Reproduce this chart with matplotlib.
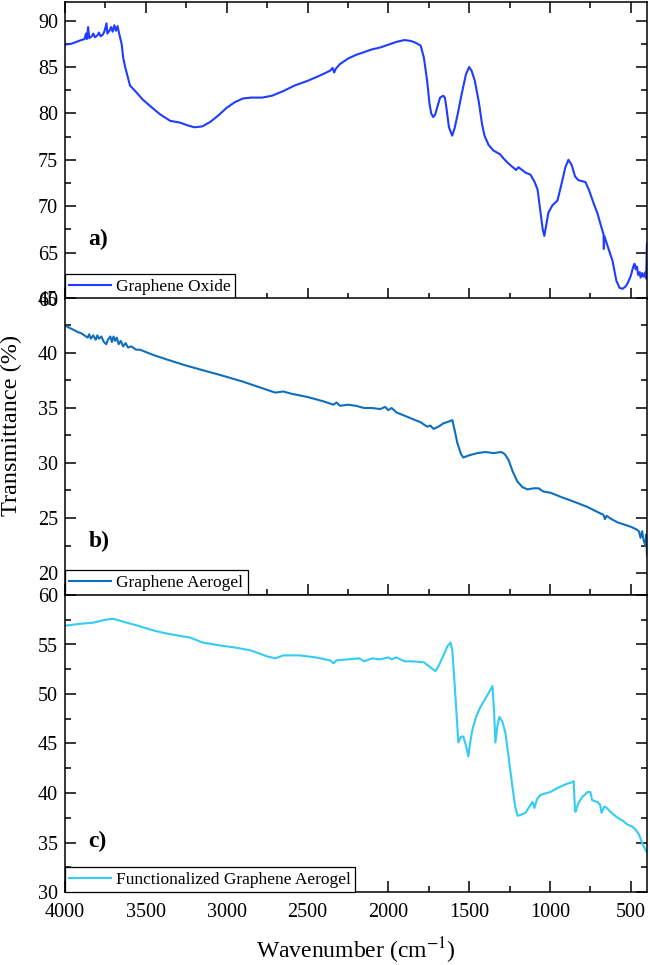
import matplotlib
matplotlib.use("Agg")
import matplotlib.pyplot as plt
from matplotlib.ticker import MultipleLocator

plt.rcParams['font.family'] = ['Liberation Serif', 'DejaVu Serif']
plt.rcParams['mathtext.fontset'] = 'stix'

# Graphene Oxide
wn_go = [4000, 3960, 3930, 3900, 3880, 3870, 3865, 3857, 3850, 3835, 3825, 3815, 3800, 3790,
         3780, 3765, 3755, 3743, 3738, 3725, 3715, 3705, 3695, 3685, 3675, 3665, 3650, 3640,
         3628, 3610, 3598, 3560, 3520, 3474, 3412, 3350, 3288, 3240, 3200, 3150, 3100, 3050,
         3000, 2950, 2900, 2850, 2780, 2720, 2650, 2580, 2500, 2420, 2360, 2345, 2335, 2325,
         2300, 2250, 2200, 2150, 2100, 2050, 2000, 1950, 1900, 1860, 1830, 1800, 1780, 1760,
         1745, 1735, 1722, 1710, 1695, 1680, 1660, 1650, 1640, 1625, 1605, 1590, 1570, 1545,
         1520, 1500, 1485, 1465, 1440, 1420, 1405, 1380, 1350, 1310, 1280, 1257, 1230, 1210,
         1195, 1180, 1150, 1121, 1095, 1077, 1060, 1045, 1035, 1025, 1010, 985, 954, 930, 905,
         886, 865, 845, 824, 781, 760, 730, 706, 680, 669, 667, 664, 640, 613, 590, 570, 550,
         530, 520, 500, 485, 477, 470, 462, 455, 445, 440, 430, 420, 410, 405, 401, 400]
t_go = [87.4, 87.5, 87.7, 87.9, 88.0, 88.6, 88.0, 89.3, 88.1, 88.3, 88.6, 88.2, 88.4, 88.7,
        88.3, 88.5, 88.9, 89.7, 88.6, 88.9, 89.3, 88.8, 89.5, 88.9, 89.4, 88.6, 87.5, 86.0,
        85.0, 83.8, 83.0, 82.3, 81.5, 80.8, 79.9, 79.2, 79.0, 78.7, 78.5, 78.6, 79.1, 79.8,
        80.6, 81.2, 81.6, 81.7, 81.7, 81.9, 82.4, 83.0, 83.5, 84.1, 84.6, 84.9, 84.4, 84.8,
        85.3, 85.9, 86.3, 86.6, 86.9, 87.1, 87.4, 87.7, 87.9, 87.8, 87.6, 87.3, 86.0, 83.5,
        81.0, 80.0, 79.6, 79.9, 80.8, 81.7, 81.9, 81.7, 80.5, 78.5, 77.6, 78.4, 80.0, 82.2,
        84.2, 85.0, 84.6, 83.5, 81.2, 78.8, 77.6, 76.6, 76.0, 75.6, 75.0, 74.6, 74.2, 73.9,
        74.2, 74.0, 73.6, 73.4, 72.6, 71.8, 69.5, 67.5, 66.8, 67.8, 69.3, 70.1, 70.6, 72.3, 74.2,
        75.0, 74.4, 73.2, 72.8, 72.6, 71.8, 70.3, 69.2, 67.6, 67.0, 65.4, 66.8, 65.5, 64.1, 62.0,
        61.2, 61.1, 61.4, 61.7, 62.5, 63.5, 63.8, 63.2, 63.5, 62.6, 62.9, 62.3, 62.8, 62.4, 62.9,
        62.2, 65.8, 66.0]

# Graphene Aerogel
wn_ga = [4000, 3960, 3920, 3900, 3880, 3860, 3850, 3840, 3825, 3810, 3800, 3790, 3775, 3760,
         3745, 3735, 3720, 3710, 3700, 3690, 3680, 3668, 3655, 3640, 3625, 3610, 3590, 3560,
         3536, 3450, 3368, 3260, 3164, 3040, 2900, 2800, 2700, 2650, 2600, 2500, 2400, 2340,
         2320, 2300, 2250, 2200, 2150, 2100, 2050, 2020, 2000, 1980, 1950, 1900, 1850, 1800,
         1760, 1740, 1720, 1690, 1660, 1620, 1604, 1590, 1573, 1550, 1536, 1500, 1449, 1400,
         1350, 1300, 1280, 1257, 1230, 1201, 1170, 1139, 1100, 1071, 1040, 997, 930, 873, 820,
         768, 700, 670, 660, 650, 620, 582, 540, 500, 470, 450, 440, 430, 421, 410, 405, 400]
t_ga = [42.5, 42.2, 41.9, 41.8, 41.6, 41.4, 41.7, 41.3, 41.6, 41.2, 41.6, 41.3, 41.5, 41.0,
        40.8, 41.2, 41.5, 41.0, 41.5, 41.1, 41.4, 40.8, 41.1, 40.6, 40.9, 40.5, 40.6, 40.3,
        40.3, 39.8, 39.4, 38.9, 38.5, 38.0, 37.4, 36.9, 36.4, 36.5, 36.3, 36.0, 35.6, 35.3,
        35.5, 35.2, 35.3, 35.2, 35.0, 35.0, 34.9, 35.1, 34.8, 35.0, 34.6, 34.3, 34.0, 33.7,
        33.3, 33.4, 33.1, 33.3, 33.6, 33.8, 33.9, 33.0, 31.8, 30.8, 30.5, 30.7, 30.9, 31.0,
        30.9, 31.0, 30.8, 30.3, 29.2, 28.3, 27.8, 27.6, 27.7, 27.7, 27.4, 27.3, 26.9, 26.6, 26.3,
        26.0, 25.5, 25.3, 24.9, 25.2, 24.9, 24.6, 24.4, 24.2, 24.0, 23.8, 23.2, 23.8, 23.0, 22.5,
        23.5, 21.6]

# Functionalized Graphene Aerogel
wn_fga = [4000, 3900, 3827, 3750, 3703, 3660, 3550, 3450, 3368, 3300, 3226, 3150, 3040, 2950,
          2850, 2750, 2700, 2650, 2550, 2450, 2360, 2340, 2320, 2250, 2180, 2150, 2100, 2050,
          2000, 1980, 1950, 1900, 1850, 1780, 1740, 1709, 1690, 1659, 1635, 1616, 1605, 1597,
          1580, 1567, 1550, 1536, 1520, 1505, 1495, 1480, 1455, 1430, 1390, 1356, 1345, 1338,
          1325, 1313, 1295, 1276, 1255, 1233, 1215, 1201, 1180, 1152, 1120, 1108, 1096, 1080,
          1059, 1020, 997, 954, 900, 861, 854, 845, 842, 824, 800, 768, 750, 740, 730, 706, 690,
          681, 665, 656, 620, 582, 550, 520, 490, 471, 450, 421, 400]
t_fga = [56.9, 57.1, 57.2, 57.5, 57.6, 57.4, 56.9, 56.4, 56.1, 55.9, 55.7, 55.2, 54.9, 54.7,
         54.4, 53.8, 53.6, 53.9, 53.9, 53.7, 53.4, 53.1, 53.4, 53.5, 53.6, 53.3, 53.6, 53.5,
         53.7, 53.5, 53.7, 53.3, 53.3, 53.2, 52.7, 52.3, 52.8, 53.9, 54.8, 55.2, 54.5, 52.7,
         48.5, 45.1, 45.7, 45.7, 44.8, 43.7, 45.0, 46.4, 47.8, 48.7, 49.8, 50.8, 48.0, 45.1,
         46.8, 47.7, 47.2, 46.1, 43.5, 40.7, 38.6, 37.7, 37.8, 38.0, 38.8, 39.1, 38.5, 39.4,
         39.8, 40.0, 40.1, 40.5, 40.9, 41.1, 41.2, 38.2, 38.1, 39.0, 39.6, 40.1, 40.1, 39.3, 39.2,
         39.1, 38.8, 38.0, 38.6, 38.6, 38.0, 37.5, 37.2, 36.8, 36.6, 36.3, 35.8, 34.6, 34.0]

series = [
    (wn_go, t_go, "Graphene Oxide", "#1f3cff", (60, 92), [60, 65, 70, 75, 80, 85, 90], "a)"),
    (wn_ga, t_ga, "Graphene Aerogel", "#0f6fbf", (18, 45), [20, 25, 30, 35, 40, 45], "b)"),
    (wn_fga, t_fga, "Functionalized Graphene Aerogel", "#33ccf2", (30, 60),
     [30, 35, 40, 45, 50, 55, 60], "c)"),
]

fig = plt.figure(figsize=(6.5, 9.65), dpi=100)
left, width = 65 / 650, 582 / 650
tops = [2, 298, 595]
h = 297

axes = []
for i, (wn, tr, name, col, ylim, yt, tag) in enumerate(series):
    bottom = 1 - (tops[i] + h) / 965
    ax = fig.add_axes([left, bottom, width, h / 965])
    ax.plot(wn, tr, color=col, lw=1.5, label=name)
    ax.set_xlim(4000, 400)
    ax.set_ylim(*ylim)
    ax.set_yticks(yt)
    ax.yaxis.set_minor_locator(MultipleLocator(2.5))
    ax.xaxis.set_major_locator(MultipleLocator(500))
    ax.xaxis.set_minor_locator(MultipleLocator(250))
    ax.tick_params(which='both', direction='in', right=True, top=(i == 0),
                   labelsize=14.5, width=1.1)
    ax.tick_params(which='major', length=8)
    ax.tick_params(which='minor', length=4)
    ax.tick_params(axis='y', pad=5)
    ax.tick_params(axis='x', pad=8)
    for s in ax.spines.values():
        s.set_linewidth(1.1)
    if i < 2:
        ax.tick_params(labelbottom=False)
    ax.text(0.04, [0.2, 0.18, 0.17][i], tag, transform=ax.transAxes, fontsize=17,
            fontweight='bold', va='center', ha='left')
    leg = ax.legend(loc='lower left', borderaxespad=0, fancybox=False, framealpha=1,
                    edgecolor='black', fontsize=12.5, handlelength=2.4,
                    handletextpad=0.3, borderpad=0.25)
    leg.get_frame().set_linewidth(0.9)
    axes.append(ax)

axes[2].set_xlabel("Wavenumber (cm$^{-1}$)", fontsize=17, labelpad=10)
fig.text(0.018, 1 - 425 / 965, "Transmittance (%)", rotation=90, fontsize=17.5,
         va='center', ha='center')

fig.savefig("out.png", dpi=100)
